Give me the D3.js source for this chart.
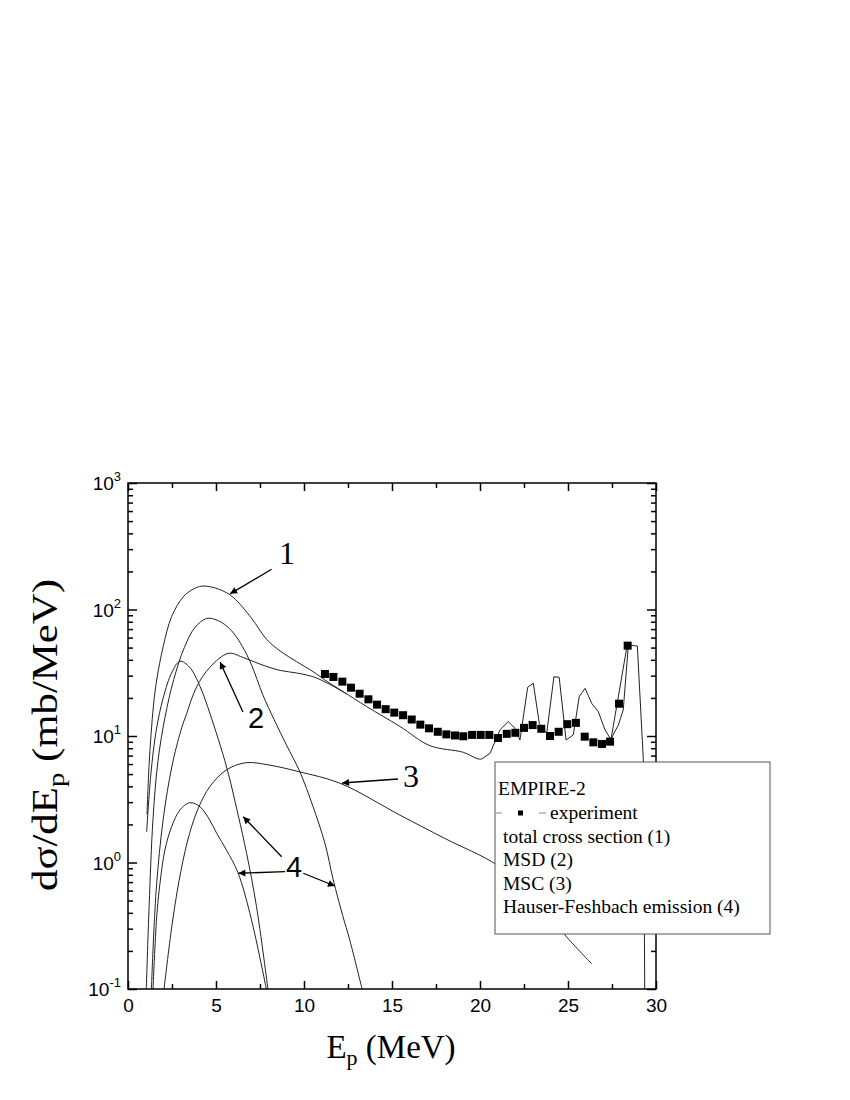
<!DOCTYPE html>
<html>
<head>
<meta charset="utf-8">
<script src="https://cdn.jsdelivr.net/npm/d3@7"></script>
<style>
body { margin: 0; background: #fff; }
</style>
</head>
<body>
<script>
// experiment points
var expE = [11.19, 11.67, 12.18, 12.67, 13.16, 13.66, 14.15, 14.64, 15.13, 15.63, 16.12, 16.61,
  17.10, 17.60, 18.09, 18.58, 19.05, 19.55, 20.04, 20.53, 21.02, 21.52, 22.01, 22.50,
  22.99, 23.48, 23.98, 24.47, 24.96, 25.45, 25.95, 26.44, 26.93, 27.39, 27.90, 28.39];
var expV = [30.9, 29.3, 26.9, 24.1, 21.6, 19.5, 17.7, 16.3, 15.3, 14.6, 13.5, 12.3,
  11.5, 10.8, 10.3, 10.1, 9.95, 10.2, 10.2, 10.2, 9.64, 10.4, 10.6, 11.6,
  12.2, 11.4, 10.0, 10.8, 12.4, 12.7, 9.88, 8.91, 8.65, 9.02, 18.0, 51.8];

// total cross section (1)
var totalE = [1.08, 1.2, 1.44, 1.63, 2.0, 2.48, 3.14, 3.7, 4.2, 4.8, 5.5, 6.0, 7.0, 7.88, 8.64,
  9.58, 10.53, 11.19, 12.23, 13.56, 15.45, 17.16, 19.05, 19.9, 20.1, 20.57, 21.14, 21.6,
  21.99, 22.27, 22.71, 23.03, 23.37, 23.79, 24.2, 24.5, 24.89, 25.3, 25.64, 25.97, 26.35,
  26.72, 27.1, 27.43, 27.86, 28.14, 28.43, 28.94, 29.28, 29.36];
var totalV = [2.4, 6, 17, 27.7, 51, 88, 126, 145, 153, 150, 138, 124, 86, 58, 47,
  38.7, 32.2, 27.7, 22.4, 17.1, 11.9, 8.38, 7.43, 6.58, 6.58, 7.3, 11.2, 13.0,
  11.5, 9.3, 24.3, 26.1, 12.6, 10.5, 29.4, 29.1, 9.3, 10.2, 20.5, 23.8, 18.1,
  15.6, 11.2, 9.4, 12.2, 16.1, 52.4, 51.4, 6.5, 0.1];

// MSD (2)
var msdE = [1.33, 1.6, 2.0, 2.5, 3.0, 3.33, 3.9, 4.66, 5.7, 6.5, 7.5, 8.64, 9.58, 10.53, 11.3, 12.43];
var msdV = [0.1, 0.6, 2.2, 5.8, 11, 15, 24.5, 35, 45, 42, 37, 33, 31.5, 29.4, 26.3, 21.5];
var msdTailE = [27.43, 28.35];
var msdTailV = [9.2, 51];

// MSC (3)
var mscE = [2.05, 2.5, 3.0, 3.5, 4.0, 4.66, 5.6, 6.7, 8.0, 9.77, 12.05, 15.45, 18.0, 21.0, 23.0, 24.83, 26.35];
var mscV = [0.1, 0.32, 0.85, 1.7, 2.7, 4.0, 5.4, 6.15, 5.9, 5.2, 4.23, 2.37, 1.55, 0.95, 0.55, 0.267, 0.158];

// Hauser-Feshbach emission (4), three components
var hfAE = [1.04, 1.2, 1.42, 1.7, 2.1, 2.6, 3.2, 3.8, 4.47, 5.0, 5.5, 6.0, 6.5, 7.0, 7.67, 8.3,
  9.0, 9.77, 10.5, 11.2, 11.65, 12.2, 12.6, 13.3];
var hfAV = [0.1, 0.45, 2.2, 6.3, 14, 28, 50, 72, 85, 83, 76, 65, 51, 37, 21, 13.5,
  8.5, 5.2, 2.8, 1.4, 0.74, 0.38, 0.244, 0.1];
var hfBE = [1.06, 1.3, 1.6, 2.0, 2.5, 2.95, 3.5, 4.1, 4.66, 5.6, 6.25, 6.74, 7.3, 7.95];
var hfBV = [1.75, 5, 11, 20, 32, 39, 35, 24.5, 15, 5.7, 2.4, 1.18, 0.45, 0.1];
var hfCE = [1.42, 1.63, 1.82, 2.1, 2.48, 2.95, 3.52, 4.1, 4.64, 5.04, 5.6, 6.25, 7.0, 7.86];
var hfCV = [0.1, 0.37, 0.69, 1.26, 1.92, 2.6, 2.97, 2.75, 2.17, 1.7, 1.25, 0.83, 0.36, 0.1];

var xTicks = [0, 5, 10, 15, 20, 25, 30];
var xMinor = [2.5, 7.5, 12.5, 17.5, 22.5, 27.5];
var yTicks = [0.1, 1, 10, 100, 1000];
var yTickExp = ["-1", "0", "1", "2", "3"];
var legendTitle = "EMPIRE-2";
var legendItems = ["experiment", "total cross section (1)", "MSD (2)", "MSC (3)", "Hauser-Feshbach emission (4)"];

(function () {

var yMinor = [];
[0.1, 1, 10, 100].forEach(function (d) {
  for (var k = 2; k <= 9; k++) yMinor.push(d * k);
});

function zip(xs, ys) {
  return xs.map(function (e, i) { return { e: e, v: ys[i] }; });
}

var W = 850, H = 1100;
var pL = 128, pR = 656, pT = 483, pB = 989;

var svg = d3.select("body").append("svg")
  .attr("width", W)
  .attr("height", H)
  .style("font-family", "'Liberation Sans', Arial, sans-serif");

var x = d3.scaleLinear().domain([0, 30]).range([pL, pR]);
var y = d3.scaleLog().domain([0.1, 1000]).range([pB, pT]);

var defs = svg.append("defs");
defs.append("clipPath").attr("id", "plot")
  .append("rect")
  .attr("x", pL).attr("y", pT)
  .attr("width", pR - pL).attr("height", pB - pT);

var marker = defs.append("marker")
  .attr("id", "head")
  .attr("viewBox", "0 0 10 10")
  .attr("refX", 10).attr("refY", 5)
  .attr("markerWidth", 10).attr("markerHeight", 7)
  .attr("markerUnits", "userSpaceOnUse")
  .attr("orient", "auto");
marker.append("path").attr("d", "M0,0 L10,5 L0,10 z").attr("fill", "#000");

// axes, ticks inward
function styleAxis(g) {
  g.select(".domain").remove();
  g.selectAll("line").attr("stroke", "#000").attr("stroke-width", 1.5);
}

svg.append("g").attr("transform", "translate(0," + pB + ")")
  .call(d3.axisBottom(x).tickValues(xTicks).tickSizeInner(-8).tickPadding(7).tickFormat(d3.format("d")))
  .call(styleAxis)
  .selectAll("text").attr("font-size", 19).attr("fill", "#000").attr("dy", "0.85em");
svg.append("g").attr("transform", "translate(0," + pB + ")")
  .call(d3.axisBottom(x).tickValues(xMinor).tickSizeInner(-5).tickFormat(""))
  .call(styleAxis);
svg.append("g").attr("transform", "translate(0," + pT + ")")
  .call(d3.axisTop(x).tickValues(xTicks).tickSizeInner(-8).tickFormat(""))
  .call(styleAxis);
svg.append("g").attr("transform", "translate(0," + pT + ")")
  .call(d3.axisTop(x).tickValues(xMinor).tickSizeInner(-5).tickFormat(""))
  .call(styleAxis);

var yAxisG = svg.append("g").attr("transform", "translate(" + pL + ",0)")
  .call(d3.axisLeft(y).tickValues(yTicks).tickSizeInner(-9).tickPadding(7).tickFormat(function () { return "10"; }))
  .call(styleAxis);
yAxisG.selectAll("text")
  .attr("font-size", 19).attr("fill", "#000").attr("dy", "0.36em")
  .each(function (d, i) {
    d3.select(this).append("tspan")
      .attr("font-size", 13)
      .attr("dy", -9)
      .text(yTickExp[i]);
  });
svg.append("g").attr("transform", "translate(" + pL + ",0)")
  .call(d3.axisLeft(y).tickValues(yMinor).tickSizeInner(-5).tickFormat(""))
  .call(styleAxis);
svg.append("g").attr("transform", "translate(" + pR + ",0)")
  .call(d3.axisRight(y).tickValues(yTicks).tickSizeInner(-9).tickFormat(""))
  .call(styleAxis);
svg.append("g").attr("transform", "translate(" + pR + ",0)")
  .call(d3.axisRight(y).tickValues(yMinor).tickSizeInner(-5).tickFormat(""))
  .call(styleAxis);

// curves
var smooth = d3.line()
  .x(function (d) { return x(d.e); })
  .y(function (d) { return y(d.v); })
  .curve(d3.curveCatmullRom.alpha(0.5));
var straight = d3.line()
  .x(function (d) { return x(d.e); })
  .y(function (d) { return y(d.v); });

var curves = svg.append("g").attr("clip-path", "url(#plot)")
  .attr("fill", "none").attr("stroke", "#222").attr("stroke-width", 1);

var total = zip(totalE, totalV);
curves.append("path").attr("d", smooth(total.filter(function (d) { return d.e <= 20.1; })));
curves.append("path").attr("d", straight(total.filter(function (d) { return d.e >= 20.1; })));
curves.append("path").attr("d", smooth(zip(msdE, msdV)));
curves.append("path").attr("d", straight(zip(msdTailE, msdTailV)));
curves.append("path").attr("d", smooth(zip(mscE, mscV)));
curves.append("path").attr("d", smooth(zip(hfAE, hfAV)));
curves.append("path").attr("d", smooth(zip(hfBE, hfBV)));
curves.append("path").attr("d", smooth(zip(hfCE, hfCV)));

// experimental squares
svg.append("g").selectAll("rect")
  .data(zip(expE, expV))
  .enter().append("rect")
  .attr("x", function (d) { return x(d.e) - 4; })
  .attr("y", function (d) { return y(d.v) - 4; })
  .attr("width", 8)
  .attr("height", 8)
  .attr("fill", "#000");

// frame
svg.append("rect")
  .attr("x", pL).attr("y", pT)
  .attr("width", pR - pL).attr("height", pB - pT)
  .attr("fill", "none").attr("stroke", "#000").attr("stroke-width", 1.5);

// curve labels with arrows (data coordinates)
var notes = svg.append("g");
function arrow(e1, v1, e2, v2) {
  notes.append("line")
    .attr("x1", x(e1)).attr("y1", y(v1))
    .attr("x2", x(e2)).attr("y2", y(v2))
    .attr("stroke", "#000").attr("stroke-width", 1.3)
    .attr("marker-end", "url(#head)");
}
function label(t, e, v, fam, size) {
  notes.append("text")
    .attr("x", x(e)).attr("y", y(v))
    .attr("text-anchor", "middle")
    .attr("font-family", fam)
    .attr("font-size", size)
    .text(t);
}
var serif = "'Liberation Serif', 'Times New Roman', serif";
var sans = "'Liberation Sans', Arial, sans-serif";
label("1", 9.03, 229, serif, 32);
arrow(8.16, 208, 5.8, 133);
label("2", 7.27, 11.6, sans, 29);
arrow(6.53, 15.5, 5.23, 38.5);
label("3", 16.08, 3.95, serif, 32);
arrow(15.34, 4.57, 12.16, 4.25);
label("4", 9.43, 0.768, sans, 29);
arrow(8.73, 1.11, 6.55, 2.30);
arrow(8.92, 0.846, 6.27, 0.822);
arrow(9.96, 0.822, 11.76, 0.652);

// legend
var lg = svg.append("g").attr("font-family", serif).attr("font-size", 19.5);
lg.append("rect")
  .attr("x", 495).attr("y", 762)
  .attr("width", 275).attr("height", 172)
  .attr("fill", "#fff").attr("stroke", "#555").attr("stroke-width", 1);
lg.append("text").attr("x", 498).attr("y", 795).text(legendTitle);
legendItems.forEach(function (t, i) {
  lg.append("text")
    .attr("x", i === 0 ? 550 : 503)
    .attr("y", 819 + i * 23.6)
    .text(t);
});
lg.append("line").attr("x1", 496).attr("x2", 502).attr("y1", 813).attr("y2", 813)
  .attr("stroke", "#999").attr("stroke-width", 1.2);
lg.append("line").attr("x1", 539).attr("x2", 546).attr("y1", 813).attr("y2", 813)
  .attr("stroke", "#999").attr("stroke-width", 1.2);
lg.append("rect").attr("x", 518).attr("y", 810.5).attr("width", 5).attr("height", 5).attr("fill", "#000");

// axis titles
var xt = svg.append("text")
  .attr("x", 391).attr("y", 1058)
  .attr("text-anchor", "middle")
  .attr("font-family", serif).attr("font-size", 33);
xt.append("tspan").text("E");
xt.append("tspan").attr("font-size", 22).attr("dy", 7).text("p");
xt.append("tspan").attr("dy", -7).text(" (MeV)");

var yt = svg.append("text")
  .attr("transform", "translate(57,735) rotate(-90)")
  .attr("text-anchor", "middle")
  .attr("font-family", serif).attr("font-size", 36)
  .attr("textLength", 312)
  .attr("lengthAdjust", "spacingAndGlyphs");
yt.append("tspan").text("d\u03c3/dE");
yt.append("tspan").attr("font-size", 24).attr("dy", 7).text("p");
yt.append("tspan").attr("dy", -7).text(" (mb/MeV)");

}());
</script>
</body>
</html>
